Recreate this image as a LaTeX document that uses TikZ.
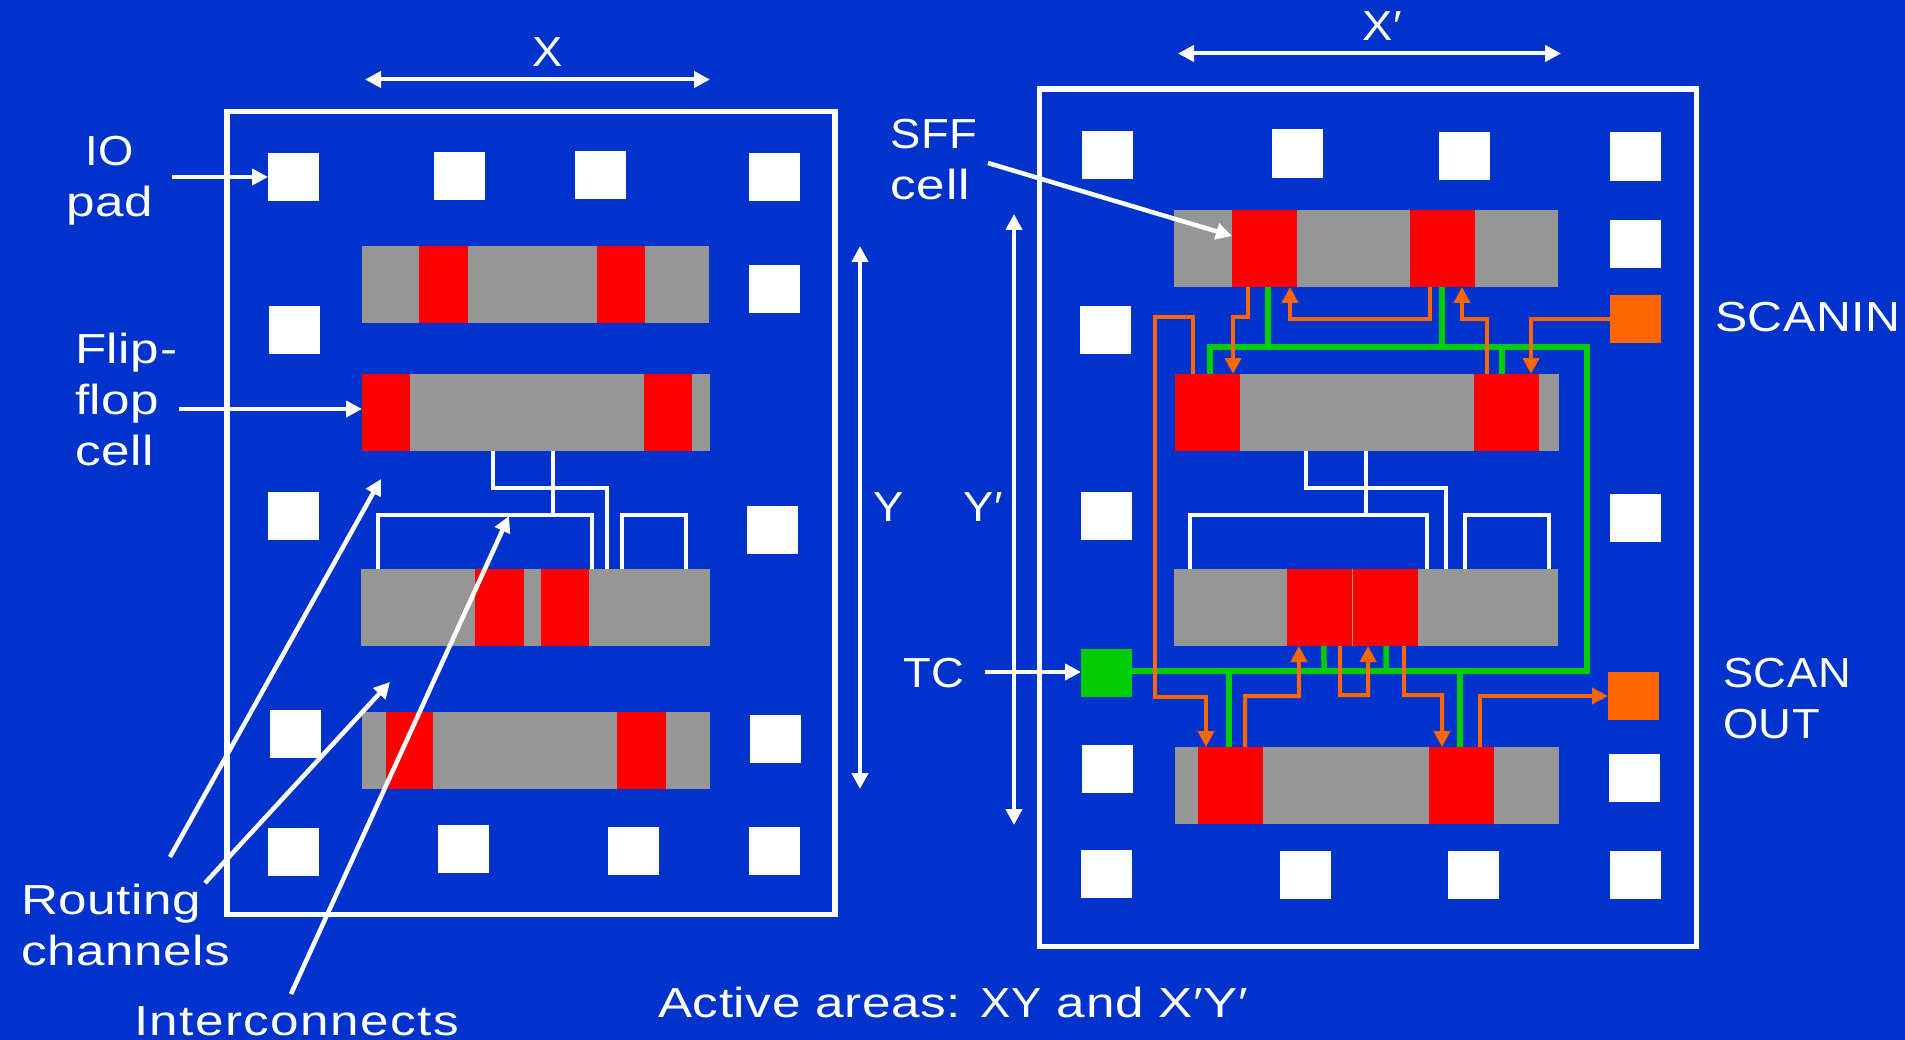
\documentclass[tikz,border=0pt]{standalone}
\usepackage{fontspec}
\usetikzlibrary{arrows.meta}
\newfontfamily\lblfont[FakeStretch=1.22,LetterSpace=1.5]{Liberation Sans}
\newfontfamily\capsfont[FakeStretch=1.08,LetterSpace=1.5]{Liberation Sans}
\newfontfamily\midfont[FakeStretch=1.15,LetterSpace=1.5]{Liberation Sans}
\newfontfamily\widefont[FakeStretch=1.22,LetterSpace=3.5]{Liberation Sans}
\definecolor{bgblue}{RGB}{0,51,204}
\definecolor{cellgray}{RGB}{150,150,150}
\definecolor{ffred}{RGB}{255,0,0}
\definecolor{wgreen}{RGB}{0,204,0}
\definecolor{worange}{RGB}{255,102,0}
\tikzset{
  boxbase/.style={inner sep=0pt,outer sep=0pt,draw=none},
  cellbox/.style={boxbase,fill=cellgray},
  ffbox/.style={boxbase,fill=ffred},
  padbox/.style={boxbase,fill=white},
  scanbox/.style={boxbase,fill=worange},
  tcbox/.style={boxbase,fill=wgreen},
  frameline/.style={draw=white,line width=5.5pt},
  wire/.style={draw=white,line width=4pt},
  greenwire/.style={draw=wgreen,line width=5.5pt},
  orangewire/.style={draw=worange,line width=4pt,-{Triangle[length=16pt,width=16pt]}},
  pointer/.style={draw=white,line width=4.5pt,-{Triangle[length=16pt,width=16pt]}},
  dimarrow/.style={draw=white,line width=4pt,{Triangle[length=16pt,width=16pt]}-{Triangle[length=16pt,width=16pt]}},
  lbl/.style={text=white,inner sep=0pt,outer sep=0pt,anchor=base west,font={\lblfont\fontsize{42pt}{51pt}\selectfont}},
  lblc/.style={lbl,anchor=base}
}
\newcommand\bx[6]{%
  \pgfmathsetmacro\bxw{#5-#3}\pgfmathsetmacro\bxh{#6-#4}%
  \node[#1,minimum width=\bxw pt,minimum height=\bxh pt,anchor=north west] (#2) at (#3,#4) {};}
\begin{document}
\begin{tikzpicture}[x=1pt,y=-1pt]
\fill[bgblue] (0,0) rectangle (1905,1040);
\useasboundingbox (0,0) rectangle (1905,1040);
% frames
\node[frameline,inner sep=0pt,outer sep=0pt,minimum width=608pt,minimum height=803pt,anchor=north west] (leftframe) at (227,111.5) {};
\node[frameline,inner sep=0pt,outer sep=0pt,minimum width=657pt,minimum height=857.5pt,anchor=north west] (rightframe) at (1039.5,89) {};
% left cells
\bx{cellbox}{lr1}{362}{246}{709}{323}
\bx{ffbox}{la1}{419}{246}{468}{323}
\bx{ffbox}{la2}{597}{246}{645}{323}
\bx{cellbox}{lr2}{362}{374}{710}{451}
\bx{ffbox}{lb1}{362}{374}{410}{451}
\bx{ffbox}{lb2}{644}{374}{692}{451}
\bx{cellbox}{lr3}{361}{569}{710}{646}
\bx{ffbox}{lc1}{475}{569}{524}{646}
\bx{ffbox}{lc2}{541}{569}{589}{646}
\bx{cellbox}{lr4}{362}{712}{710}{789}
\bx{ffbox}{ld1}{386}{712}{433}{789}
\bx{ffbox}{ld2}{617}{712}{666}{789}
% left pads
\bx{padbox}{lp1}{268}{153}{319}{201}
\bx{padbox}{lp2}{434}{152}{485}{200}
\bx{padbox}{lp3}{575}{151}{626}{199}
\bx{padbox}{lp4}{749}{153}{800}{201}
\bx{padbox}{lp5}{749}{265}{800}{313}
\bx{padbox}{lp6}{269}{306}{320}{354}
\bx{padbox}{lp7}{268}{492}{319}{540}
\bx{padbox}{lp8}{747}{506}{798}{554}
\bx{padbox}{lp9}{270}{710}{321}{758}
\bx{padbox}{lp10}{750}{715}{801}{763}
\bx{padbox}{lp11}{268}{828}{319}{876}
\bx{padbox}{lp12}{438}{825}{489}{873}
\bx{padbox}{lp13}{608}{827}{659}{875}
\bx{padbox}{lp14}{749}{827}{800}{875}
% right cells
\bx{cellbox}{rr1}{1174}{210}{1558}{287}
\bx{ffbox}{ra1}{1232}{210}{1297}{287}
\bx{ffbox}{ra2}{1410}{210}{1475}{287}
\bx{cellbox}{rr2}{1175}{374}{1559}{451}
\bx{ffbox}{rb1}{1175}{374}{1240}{451}
\bx{ffbox}{rb2}{1474}{374}{1539}{451}
\bx{cellbox}{rr3}{1174}{569}{1558}{646}
\bx{ffbox}{rc1}{1287}{569}{1352.3}{646}
\bx{ffbox}{rc2}{1352.7}{569}{1418}{646}
\bx{cellbox}{rr4}{1175}{747}{1559}{824}
\bx{ffbox}{rd1}{1198}{747}{1263}{824}
\bx{ffbox}{rd2}{1429}{747}{1494}{824}
% right pads
\bx{padbox}{rp1}{1082}{131}{1133}{179}
\bx{padbox}{rp2}{1272}{129}{1323}{178}
\bx{padbox}{rp3}{1439}{132}{1490}{180}
\bx{padbox}{rp4}{1610}{132}{1661}{181}
\bx{padbox}{rp5}{1610}{220}{1661}{268}
\bx{scanbox}{scanin}{1610}{295}{1661}{343}
\bx{padbox}{rp6}{1080}{306}{1131}{354}
\bx{padbox}{rp7}{1081}{492}{1132}{540}
\bx{padbox}{rp8}{1610}{494}{1661}{542}
\bx{tcbox}{tc}{1081}{649}{1132}{697}
\bx{scanbox}{scanout}{1608}{672}{1659}{720}
\bx{padbox}{rp9}{1082}{745}{1133}{793}
\bx{padbox}{rp10}{1609}{754}{1660}{802}
\bx{padbox}{rp11}{1081}{850}{1132}{898}
\bx{padbox}{rp12}{1280}{851}{1331}{899}
\bx{padbox}{rp13}{1448}{851}{1499}{899}
\bx{padbox}{rp14}{1610}{851}{1661}{899}
% white interconnects, left
\draw[wire] ([xshift=-43.3pt]lr2.south) -- (492.7,488) -- (607,488) -- ([xshift=71.5pt]lr3.north);
\draw[wire] ([xshift=17pt]lr2.south) -- (553,515);
\draw[wire] ([xshift=-157.8pt]lr3.north) -- (377.7,515) -- (592,515) -- ([xshift=56.5pt]lr3.north);
\draw[wire] ([xshift=86.5pt]lr3.north) -- (622,515) -- (686,515) -- ([xshift=150.5pt]lr3.north);
% white interconnects, right
\draw[wire] ([xshift=-61pt]rr2.south) -- (1306,488) -- (1446,488) -- ([xshift=80pt]rr3.north);
\draw[wire] ([xshift=-1pt]rr2.south) -- (1366,515);
\draw[wire] ([xshift=-176pt]rr3.north) -- (1190,515) -- (1427,515) -- ([xshift=61pt]rr3.north);
\draw[wire] ([xshift=99pt]rr3.north) -- (1465,515) -- (1549,515) -- ([xshift=183pt]rr3.north);
% green scan-control wires
\draw[greenwire] ([xshift=2.5pt]rb1.north) -- (1210,347) -- (1587,347) -- (1587,671) -- ([yshift=2pt]tc.east);
\draw[greenwire] ([xshift=3.5pt]ra1.south) -- (1268,347);
\draw[greenwire] ([xshift=-0.5pt]ra2.south) -- (1442,347);
\draw[greenwire] ([xshift=-4.5pt]rb2.north) -- (1502,347);
\draw[greenwire] ([xshift=4.3pt]rc1.south) -- (1324,671);
\draw[greenwire] ([xshift=0.8pt]rc2.south) -- (1386,671);
\draw[greenwire] ([xshift=-1.5pt]rd1.north) -- (1229,671);
\draw[greenwire] ([xshift=-1.5pt]rd2.north) -- (1460,671);
% orange scan chain
\draw[orangewire] ([xshift=-16.5pt]ra1.south) -- (1248,317) -- (1233,317) -- ([xshift=25.5pt]rb1.north);
\draw[orangewire] ([xshift=-12.5pt]ra2.south) -- (1430,319) -- (1290,319) -- ([xshift=25.5pt]ra1.south);
\draw[orangewire] ([xshift=-19.5pt]rb2.north) -- (1487,319) -- (1462,319) -- ([xshift=19.5pt]ra2.south);
\draw[orangewire] (scanin.west) -- (1531,319) -- ([xshift=24.5pt]rb2.north);
\draw[orangewire] ([xshift=-14.5pt]rb1.north) -- (1193,317) -- (1155,317) -- (1155,697) -- (1206,697) -- ([xshift=-24.5pt]rd1.north);
\draw[orangewire] ([xshift=14.5pt]rd1.north) -- (1245,696) -- (1299,696) -- ([xshift=-20.75pt]rc1.south);
\draw[orangewire] ([xshift=20.25pt]rc1.south) -- (1340,695) -- (1368,695) -- ([xshift=-17.25pt]rc2.south);
\draw[orangewire] ([xshift=18.75pt]rc2.south) -- (1404,695) -- (1442,695) -- ([xshift=-19.5pt]rd2.north);
\draw[orangewire] ([xshift=18.5pt]rd2.north) -- (1480,696) -- (scanout.west);
% labels
\node[lblc,align=center] (iopad) at (110,217) {{\capsfont IO}\\pad};
\node[lbl,align=left] (fflabel) at (75,465) {Flip-\\flop\\cell};
\node[lbl,align=left] (routing) at (21,965) {Routing\\channels};
\node[lbl] (interc) at (134,1035) {\widefont Interconnects};
\node[lblc] (xlabel) at (547.7,66.7) {\capsfont X};
\node[lblc] (xplabel) at (1382,40.7) {\capsfont X′};
\node[lblc] (ylabel) at (889,521) {\capsfont Y};
\node[lblc] (yplabel) at (983,521) {\capsfont Y′};
\node[lbl,align=left] (sfflabel) at (890.7,200) {{\capsfont SFF}\\cell};
\node[lbl] (tclabel) at (903,687) {\capsfont TC};
\node[lbl] (scaninlabel) at (1715,332) {\midfont SCANIN};
\node[lbl,align=left] (scanoutlabel) at (1723,738) {{\capsfont SCAN}\\{\capsfont OUT}};
\node[lbl] (active) at (658,1017) {Active areas: {\capsfont XY} and X′Y′};
% free ends of the pointers and dimension arrows
\coordinate (ioS) at (172,177);
\coordinate (ffS) at (179,409);
\coordinate (tcS) at (985,672);
\coordinate (sffS) at (988,163);
\coordinate (sffT) at (1232,236);
\coordinate (ro1S) at (170,857);
\coordinate (ro1T) at (381,479);
\coordinate (ro2S) at (205,883);
\coordinate (ro2T) at (390,682);
\coordinate (inS) at (291,994);
\coordinate (inT) at (509,516);
\coordinate (xA) at (365,79.5);
\coordinate (xB) at (710,79.5);
\coordinate (xpA) at (1178,53.5);
\coordinate (xpB) at (1561,53.5);
\coordinate (yA) at (860,246);
\coordinate (yB) at (860,789);
\coordinate (ypA) at (1014,214);
\coordinate (ypB) at (1014,825);
% pointers
\draw[pointer] (ioS) -- (lp1.west);
\draw[pointer] (ffS) -- ([yshift=3.5pt]lb1.west);
\draw[pointer] (tcS) -- ([yshift=1pt]tc.west);
\draw[pointer] (sffS) -- (sffT);
\draw[pointer] (ro1S) -- (ro1T);
\draw[pointer] (ro2S) -- (ro2T);
\draw[pointer] (inS) -- (inT);
% dimension arrows
\draw[dimarrow] (xA) -- (xB);
\draw[dimarrow] (xpA) -- (xpB);
\draw[dimarrow] (yA) -- (yB);
\draw[dimarrow] (ypA) -- (ypB);
\end{tikzpicture}
\end{document}
